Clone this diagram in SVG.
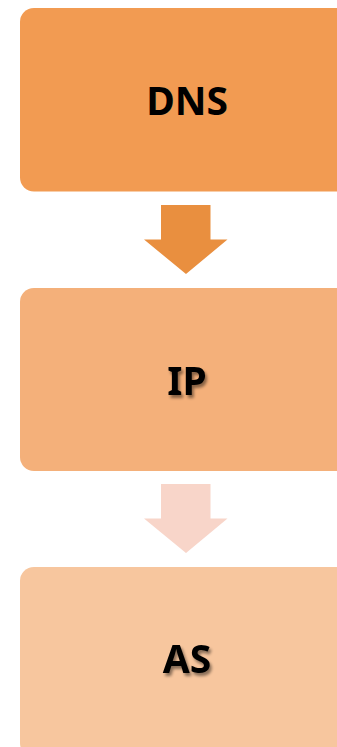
<svg xmlns="http://www.w3.org/2000/svg" width="337" height="747" viewBox="0 0 337 747">
<defs>
<style>
.lbl{font-family:"Noto Sans","Liberation Sans",Arial,sans-serif;font-weight:bold;font-size:39px;fill:#000;text-anchor:middle}
</style>
<filter id="sh" x="-20%" y="-20%" width="140%" height="160%">
<feGaussianBlur in="SourceAlpha" stdDeviation="1.5"/>
<feOffset dx="2" dy="3" result="b"/>
<feComponentTransfer><feFuncA type="linear" slope="0.45"/></feComponentTransfer>
<feMerge><feMergeNode/><feMergeNode in="SourceGraphic"/></feMerge>
</filter>
</defs>
<rect width="337" height="747" fill="#fff"/>
<g id="dns">
<rect x="20" y="8" width="340" height="183.5" rx="14" fill="#F29B52"/>
<text class="lbl" x="187" y="115">DNS</text>
</g>
<g id="ip">
<rect x="20" y="288" width="340" height="183" rx="14" fill="#F4B07A"/>
<text class="lbl" x="187" y="395" filter="url(#sh)">IP</text>
</g>
<g id="as">
<rect x="20" y="567" width="340" height="190" rx="14" fill="#F7C69E"/>
<text class="lbl" x="187" y="673" filter="url(#sh)">AS</text>
</g>
<g id="connectors">
<polygon points="161,205 210.5,205 210.5,239.5 227.5,239.5 186,274 144,239.5 161,239.5" fill="#E98F3F"/>
<polygon points="161,484 210.5,484 210.5,518.5 227.5,518.5 186,553 144,518.5 161,518.5" fill="#F8D5C9"/>
</g>
</svg>
